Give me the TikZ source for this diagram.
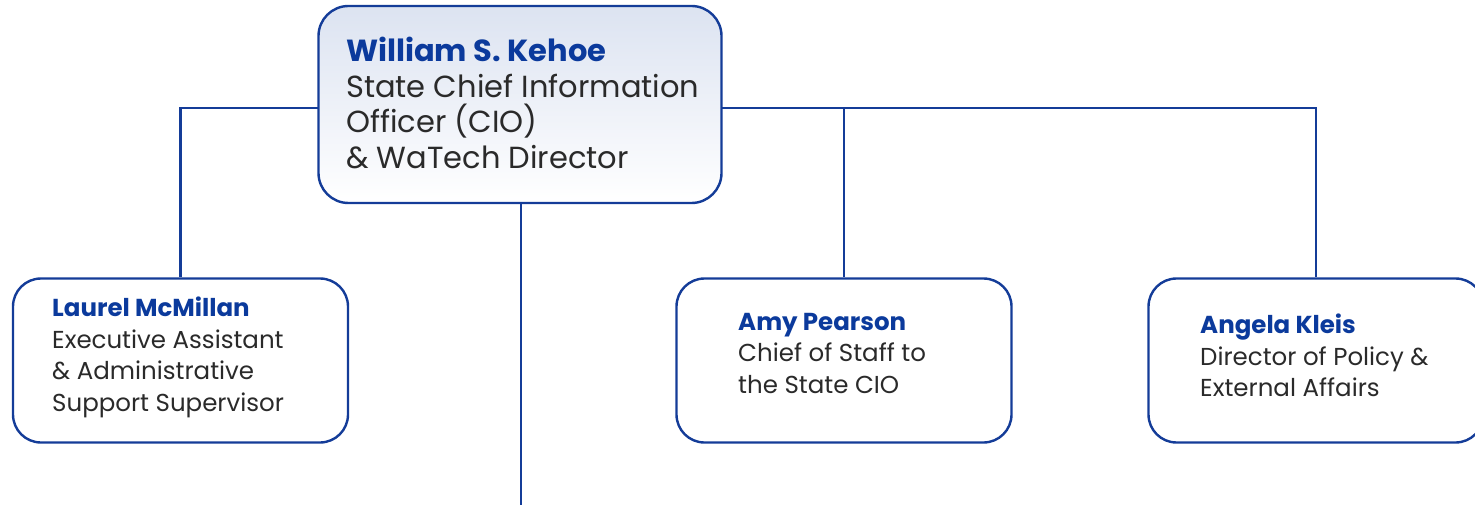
\documentclass[tikz,border=0pt]{standalone}
\usepackage{fontspec}
\setmainfont{Poppins}
\definecolor{navy}{HTML}{0B3A9C}
\definecolor{linec}{HTML}{143C98}
\definecolor{txt}{HTML}{2A2A2A}
\definecolor{topshade}{HTML}{DCE3F1}
\tikzset{
  box/.style={draw=linec, line width=2.4pt, rounded corners=28pt, fill=white, minimum width=335pt, minimum height=164pt, inner sep=0pt},
  topbox/.style={draw=linec, line width=2.4pt, rounded corners=30pt, top color=topshade, bottom color=white, minimum width=403pt, minimum height=197pt, inner sep=0pt},
  conn/.style={draw=linec, line width=2.4pt},
  bigtxt/.style={anchor=north west, align=left, inner sep=0pt, text=txt, font=\fontsize{30.5}{35.5}\selectfont},
  smalltxt/.style={anchor=north west, align=left, inner sep=0pt, text=txt, font=\fontsize{24.5}{31.5}\selectfont},
}
\newcommand{\nm}[1]{\textcolor{navy}{\bfseries #1}}
\begin{document}
\begin{tikzpicture}[x=1pt,y=-1pt]
\useasboundingbox (0,0) rectangle (1475,505);
\node[topbox] (top) at (520,104.5) {};
\node[box] (laurel) at (180.5,360.5) {};
\node[box] (amy) at (844,360.5) {};
\node[box] (angela) at (1316,360.5) {};
\coordinate (bottom) at (521,506);
\coordinate (hl) at (318,108);
\coordinate (hr) at (722,108);
% connectors
\draw[conn] (hl) -| (laurel.north);
\draw[conn] (hr) -| (angela.north);
\draw[conn] (hr -| amy.north) -- (amy.north);
\draw[conn] (top.south -| bottom) -- (bottom);
% texts
\node[bigtxt] (toptext) at (346,37) {\nm{William S. Kehoe}\\State Chief Information\\Officer (CIO)\\\& WaTech Director};
\node[smalltxt] (laureltext) at (52,297) {\nm{Laurel McMillan}\\Executive Assistant\\\& Administrative\\Support Supervisor};
\node[smalltxt] (amytext) at (738,313) {\nm{Amy Pearson}\\Chief of Staff to\\the State CIO};
\node[smalltxt] (angelatext) at (1200,314) {\nm{Angela Kleis}\\Director of Policy \&\\External Affairs};
\end{tikzpicture}
\end{document}
